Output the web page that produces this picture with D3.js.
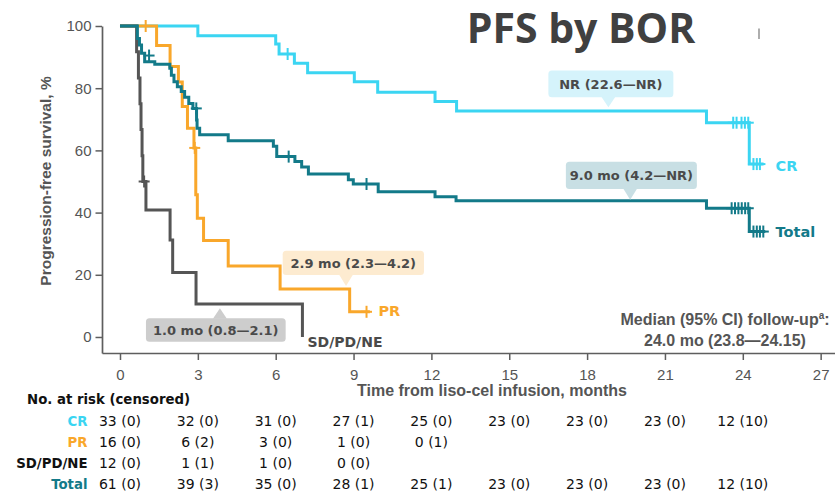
<!DOCTYPE html>
<html>
<head>
<meta charset="utf-8">
<script src="https://cdn.jsdelivr.net/npm/d3@7"></script>
<style>
  html, body { margin: 0; padding: 0; background: #fff; }
  svg { display: block; }
</style>
</head>
<body>
<svg id="chart" width="835" height="493"></svg>
<script>
// ---------------- DATA ----------------
// Kaplan–Meier steps: [month, PFS %]
const crSteps = [[0,100],[3.0,96.9],[6.0,94.2],[6.13,91.0],[6.72,88.0],[7.23,85.0],[9.03,82.1],[9.93,78.7],[12.14,75.7],[12.97,72.7],[22.6,68.9],[24.25,55.6]];
const crEnd = 24.8;
const crCensor = [[6.46,91.0],[23.63,68.9],[23.76,68.9],[23.95,68.9],[24.08,68.9],[24.21,68.9],[24.41,55.6],[24.54,55.6],[24.66,55.6]];

const prSteps = [[0,100],[1.41,93.7],[1.93,87.0],[2.25,82.0],[2.40,74.1],[2.60,67.1],[2.85,60.8],[2.92,45.7],[2.98,38.2],[3.22,31.0],[4.17,22.8],[6.17,15.4],[8.85,8.1]];
const prEnd = 9.63;
const prCensor = [[0.99,100],[2.88,60.8],[9.5,8.1]];

const sdSteps = [[0,100],[0.64,91.7],[0.71,83.3],[0.77,75.0],[0.81,66.7],[0.85,58.3],[0.88,50.0],[1.0,40.8],[1.93,31.2],[2.03,20.7],[2.93,10.6],[7.03,0]];
const sdEnd = 7.03;
const sdCensor = [[0.93,50.0]];

const totalSteps = [[0,100],[0.67,96.0],[0.75,93.9],[0.83,91.2],[0.95,88.5],[1.34,87.7],[1.92,86.4],[1.98,84.2],[2.08,82.1],[2.21,80.5],[2.36,78.9],[2.49,77.1],[2.65,75.1],[2.81,73.5],[2.95,69.8],[2.97,67.1],[3.07,65.0],[4.17,63.1],[5.91,61.3],[6.04,58.0],[6.74,56.4],[7.0,54.7],[7.26,52.4],[8.80,50.6],[8.99,49.2],[9.95,46.7],[12.14,45.1],[12.95,43.8],[22.6,41.4],[24.25,33.9]];
const totalEnd = 24.86;
const totalCensor = [[1.12,90.5],[2.94,73.5],[6.5,58.0],[9.5,49.2],[23.57,41.4],[23.70,41.4],[23.83,41.4],[23.96,41.4],[24.09,41.4],[24.21,41.4],[24.41,33.9],[24.54,33.9],[24.66,33.9],[24.79,33.9]];

const seriesNames = ["CR","PR","SD/PD/NE","Total"];
const xTicks = [0,3,6,9,12,15,18,21,24,27];
const yTicks = [0,20,40,60,80,100];

const medianLabels = ["NR (22.6\u2014NR)","9.0 mo (4.2\u2014NR)","2.9 mo (2.3\u20144.2)","1.0 mo (0.8\u20142.1)"];

const riskTimes = [0,3,6,9,12,15,18,21,24];
const riskCR    = ["33 (0)","32 (0)","31 (0)","27 (1)","25 (0)","23 (0)","23 (0)","23 (0)","12 (10)"];
const riskPR    = ["16 (0)","6 (2)","3 (0)","1 (0)","0 (1)"];
const riskSD    = ["12 (0)","1 (1)","1 (0)","0 (0)"];
const riskTotal = ["61 (0)","39 (3)","35 (0)","28 (1)","25 (1)","23 (0)","23 (0)","23 (0)","12 (10)"];

const titleText = "PFS by BOR";
const xTitle = "Time from liso-cel infusion, months";
const yTitle = "Progression-free survival, %";
const followUp1 = "Median (95% CI) follow-up";
const followUp2 = "24.0 mo (23.8\u201424.15)";
const riskHeader = "No. at risk (censored)";

// ---------------- STYLE / LAYOUT ----------------
const C = { cr: "#3bd5f2", pr: "#f9a72b", sd: "#555555", total: "#137a89", axis: "#5e5e5e", text: "#555555" };
const svg = d3.select("#chart");

const x = d3.scaleLinear().domain([-0.6936, 27.553]).range([102, 835]);
const y = d3.scaleLinear().domain([-5.15, 100]).range([353, 26]);

// Title
svg.append("text").attr("x", 581).attr("y", 43).attr("text-anchor", "middle")
  .attr("font-family", "Open Sans").attr("font-weight", 700).attr("font-size", 41)
  .attr("fill", "#404040").text(titleText);
svg.append("line").attr("x1", 759).attr("x2", 759).attr("y1", 28.5).attr("y2", 39)
  .attr("stroke", "#777").attr("stroke-width", 1.2);

// Axes
const yAxis = svg.append("g").attr("transform", `translate(${x.range()[0]},0)`)
  .call(d3.axisLeft(y).tickValues(yTicks).tickSize(6.5).tickSizeOuter(0).tickPadding(4));
const xAxis = svg.append("g").attr("transform", `translate(0,${y.range()[0]})`)
  .call(d3.axisBottom(x).tickValues(xTicks).tickSize(7).tickSizeOuter(0).tickPadding(9));
[yAxis, xAxis].forEach(g => {
  g.selectAll("path.domain").attr("stroke", C.axis).attr("stroke-width", 1.7);
  g.selectAll(".tick line").attr("stroke", C.axis).attr("stroke-width", 1.5);
  g.selectAll(".tick text").attr("font-family", "Liberation Sans").attr("font-size", 15).attr("fill", C.text);
});

svg.append("text").attr("transform", "translate(45,181) rotate(-90)")
  .attr("text-anchor", "middle").attr("dominant-baseline", "central")
  .attr("font-family", "Liberation Sans").attr("font-weight", 700).attr("font-size", 15.5)
  .attr("fill", C.text).text(yTitle);
svg.append("text").attr("x", 492).attr("y", 396).attr("text-anchor", "middle")
  .attr("font-family", "Liberation Sans").attr("font-weight", 700).attr("font-size", 16)
  .attr("fill", C.text).text(xTitle);

// Curves
const line = d3.line().x(d => x(d[0])).y(d => y(d[1])).curve(d3.curveStepAfter);
const curves = [
  { steps: crSteps, end: crEnd, cens: crCensor, color: C.cr },
  { steps: prSteps, end: prEnd, cens: prCensor, color: C.pr },
  { steps: sdSteps, end: sdEnd, cens: sdCensor, color: C.sd },
  { steps: totalSteps, end: totalEnd, cens: totalCensor, color: C.total }
];
const gCurves = svg.append("g");
curves.forEach(c => {
  const last = c.steps[c.steps.length - 1];
  const pts = c.end > last[0] ? c.steps.concat([[c.end, last[1]]]) : c.steps;
  gCurves.append("path").attr("d", line(pts)).attr("fill", "none")
    .attr("stroke", c.color).attr("stroke-width", 3).attr("stroke-linejoin", "miter");
  const g = gCurves.append("g").attr("stroke", c.color).attr("stroke-width", 2);
  c.cens.forEach(d => {
    const cx = x(d[0]), cy = y(d[1]);
    g.append("line").attr("x1", cx).attr("x2", cx).attr("y1", cy - 6).attr("y2", cy + 6);
    g.append("line").attr("x1", cx - 5.5).attr("x2", cx + 5.5).attr("y1", cy).attr("y2", cy);
  });
});

// Curve end labels
const endLab = svg.append("g").attr("font-family", "DejaVu Sans").attr("font-weight", 700).attr("font-size", 14.5);
endLab.append("text").attr("x", x(crEnd) + 12).attr("y", y(55.6) + 6.5).attr("fill", C.cr).text(seriesNames[0]);
endLab.append("text").attr("x", x(totalEnd) + 10.5).attr("y", y(33.9) + 5).attr("fill", C.total).text(seriesNames[3]);
endLab.append("text").attr("x", x(prEnd) + 8.5).attr("y", y(8.1) + 4.5).attr("fill", C.pr).text(seriesNames[1]);
endLab.append("text").attr("x", x(sdEnd) + 5).attr("y", 347).attr("font-size", 14).attr("fill", "#4a4a4a").text(seriesNames[2]);

// Median callouts: tip in data coords, box size in px
const callouts = [
  { text: medianLabels[0], t: 18.82, s: 73.9, w: 125, h: 26.6, dx: 2.5, gap: 10, dir: "down", fill: "#d5f3fb" },
  { text: medianLabels[1], t: 19.66, s: 44.1, w: 131, h: 27.3, dx: 1.2, gap: 10.8, dir: "down", fill: "#c8dfe4" },
  { text: medianLabels[2], t: 8.71, s: 16.4, w: 141.3, h: 24.3, dx: 7.3, gap: 11, dir: "down", fill: "#fdebd0" },
  { text: medianLabels[3], t: 3.85, s: 9.2, w: 139.7, h: 23.4, dx: -4.1, gap: 10, dir: "up", fill: "#cdcdcd" }
];
const gCall = svg.append("g");
callouts.forEach(c => {
  const tx = x(c.t), ty = y(c.s);
  const cx = tx + c.dx;
  const top = c.dir === "down" ? ty - c.gap - c.h : ty + c.gap;
  const base = c.dir === "down" ? top + c.h - 0.5 : top + 0.5;
  gCall.append("rect").attr("x", cx - c.w / 2).attr("y", top).attr("width", c.w).attr("height", c.h)
    .attr("rx", 3.5).attr("fill", c.fill);
  gCall.append("path").attr("d", `M${tx - 7},${base} L${tx + 7},${base} L${tx},${ty} Z`).attr("fill", c.fill);
  gCall.append("text").attr("x", cx).attr("y", top + c.h / 2 + 0.5)
    .attr("text-anchor", "middle").attr("dominant-baseline", "central")
    .attr("font-family", "DejaVu Sans").attr("font-weight", 700).attr("font-size", 13)
    .attr("fill", "#4a4a4a").text(c.text);
});

// Follow-up note
const fu = svg.append("g").attr("font-family", "Liberation Sans").attr("font-weight", 700)
  .attr("font-size", 16).attr("fill", C.text).attr("text-anchor", "middle");
const fu1 = fu.append("text").attr("x", 725).attr("y", 325);
fu1.append("tspan").text(followUp1);
fu1.append("tspan").attr("font-size", 10).attr("dy", -6).text("a");
fu1.append("tspan").attr("dy", 6).text(":");
fu.append("text").attr("x", 725).attr("y", 345.5).text(followUp2);

// Risk table
const rt = svg.append("g");
rt.append("text").attr("x", 27).attr("y", 404).attr("font-family", "DejaVu Sans").attr("font-weight", 700)
  .attr("font-size", 13.3).attr("fill", "#111").text(riskHeader);
const rows = [
  { name: seriesNames[0], vals: riskCR, color: C.cr, yb: 426 },
  { name: seriesNames[1], vals: riskPR, color: C.pr, yb: 447 },
  { name: seriesNames[2], vals: riskSD, color: "#111", yb: 468 },
  { name: seriesNames[3], vals: riskTotal, color: C.total, yb: 489 }
];
rows.forEach(r => {
  rt.append("text").attr("x", 87.5).attr("y", r.yb).attr("text-anchor", "end")
    .attr("font-family", "DejaVu Sans").attr("font-weight", 700).attr("font-size", 13.3)
    .attr("fill", r.color).text(r.name);
  r.vals.forEach((v, i) => {
    rt.append("text").attr("x", x(riskTimes[i])).attr("y", r.yb).attr("text-anchor", "middle")
      .attr("font-family", "DejaVu Sans").attr("font-size", 14).attr("fill", "#111").text(v);
  });
});
</script>
</body>
</html>
